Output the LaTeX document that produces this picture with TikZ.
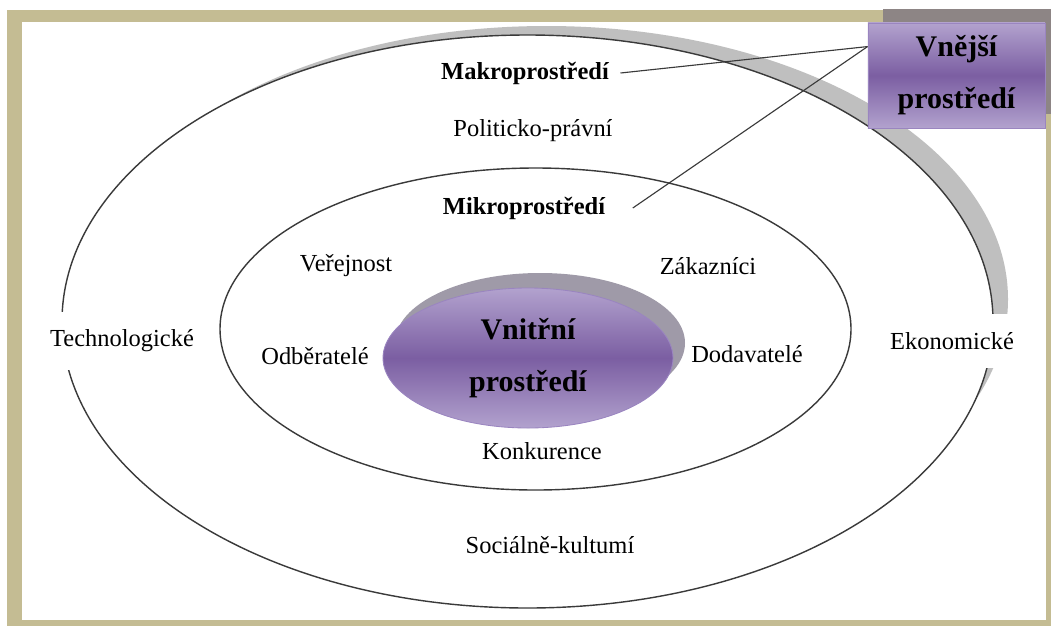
\documentclass[tikz,border=0pt]{standalone}
\usepackage{tikz}
\usepackage{xcolor}
\usepackage{fontspec}
\setmainfont{Liberation Serif}
\usetikzlibrary{positioning}

\definecolor{moldura}{HTML}{C4BC93}
\definecolor{sombra}{HTML}{BFBFBF}
\definecolor{sombraroxa}{HTML}{9F9AA8}
\definecolor{sombracaixa}{HTML}{8D8585}
\definecolor{roxoclaro}{HTML}{B2A2CE}
\definecolor{roxoescuro}{HTML}{7B5EA2}
\definecolor{roxoborda}{HTML}{9A85C0}
\definecolor{linha}{HTML}{3A3A3A}

\tikzset{
  rotulo/.style={font=\fontsize{17.4}{20}\selectfont, inner sep=1pt},
  rotulobranco/.style={rotulo, fill=white, inner xsep=2pt, inner ysep=0.45cm},
  titulo/.style={font=\bfseries\fontsize{17.4}{20}\selectfont, inner sep=1pt},
  grande/.style={font=\bfseries\fontsize{21.3}{37}\selectfont, align=center, inner sep=0pt},
  caixa/.style={grande, draw=roxoborda, line width=0.6pt, top color=roxoclaro, bottom color=roxoclaro, middle color=roxoescuro, minimum width=4.425cm, minimum height=2.625cm}
}

\begin{document}
\begin{tikzpicture}[x=0.025cm, y=-0.025cm] %uma unidade vale um pixel da figura

\useasboundingbox (0,0) rectangle (1051,626);

%Os pontos abaixo marcam os centros das elipses e da sombra externa, em pixels (x/y medidos do canto superior esquerdo)
\coordinate (CE) at (527.5,321.5);
\coordinate (CS) at (546.5,299.2);
\coordinate (CM) at (535.5,329);
\coordinate (CI) at (528,358);

%Moldura bege em volta de toda a figura, com o miolo branco.
%---------------------------------------------------
\fill[moldura] (7,10) rectangle (1051,626);
\fill[white] (22,22) rectangle (1046,620);
%---------------------------------------------------

%Sombra cinza-escura da caixa do canto superior direito, deslocada para cima e para a direita.
%---------------------------------------------------
\fill[sombracaixa] (883,9) rectangle (1051,114);
%---------------------------------------------------

%Elipse externa (macroambiente) com sua sombra cinza clara, um pouco achatada e puxada para cima e para a direita.
%---------------------------------------------------
\fill[sombra] (CS) ellipse [x radius=461.5, y radius=273.2];
\draw[linha, fill=white, line width=1pt] (CE) ellipse [x radius=465.5, y radius=286.5];
%---------------------------------------------------

%Elipse do meio (microambiente), so o contorno.
%---------------------------------------------------
\draw[linha, line width=1pt] (CM) ellipse [x radius=315.5, y radius=161];
%---------------------------------------------------

%Elipse interna roxa com degrade (claro-escuro-claro) e sombra acinzentada atras.
%---------------------------------------------------
\fill[sombraroxa] ([shift={(12,-15)}]CI) ellipse [x radius=145, y radius=70];
\shadedraw[top color=roxoclaro, bottom color=roxoclaro, middle color=roxoescuro, draw=roxoborda, line width=0.6pt] (CI) ellipse [x radius=145, y radius=70];
%---------------------------------------------------

%Rotulos do anel externo. Technologicke e Ekonomicke tem fundo branco e cortam a linha da elipse.
%---------------------------------------------------
\node[titulo] (makro) at (525,73) {Makroprostředí};
\node[rotulo] (politicko) at (533,131) {Politicko-právní};
\node[rotulobranco] (technolog) at (122,341) {Technologické};
\node[rotulobranco] (ekonom) at (952,341) {Ekonomické};
\node[rotulo] (socialne) at (550,545) {Sociálně-kultumí};
%---------------------------------------------------

%Rotulos do anel do meio.
%---------------------------------------------------
\node[titulo] (mikro) at (524,208) {Mikroprostředí};
\node[rotulo] (verejnost) at (346,266) {Veřejnost};
\node[rotulo] (zakaznici) at (708,266) {Zákazníci};
\node[rotulo] (odberatele) at (315,356) {Odběratelé};
\node[rotulo] (dodavatele) at (747,354) {Dodavatelé};
\node[rotulo] (konkurence) at (542,451) {Konkurence};
%---------------------------------------------------

%Texto da elipse roxa.
%---------------------------------------------------
\node[grande] (vnitrni) at (CI) {Vnitřní\\prostředí};
%---------------------------------------------------

%Caixa roxa do canto e as duas linhas que a ligam aos titulos dos aneis.
%---------------------------------------------------
\node[caixa] (vnejsi) at (956.5,75.5) {Vnější\\prostředí};
\draw[linha, line width=0.8pt] ([xshift=0.25cm]makro.east) -- ([yshift=-0.6cm]vnejsi.north west);
\draw[linha, line width=0.8pt] ([xshift=0.65cm]mikro.east) -- ([yshift=-0.6cm]vnejsi.north west);
%---------------------------------------------------

\end{tikzpicture}
\end{document}
